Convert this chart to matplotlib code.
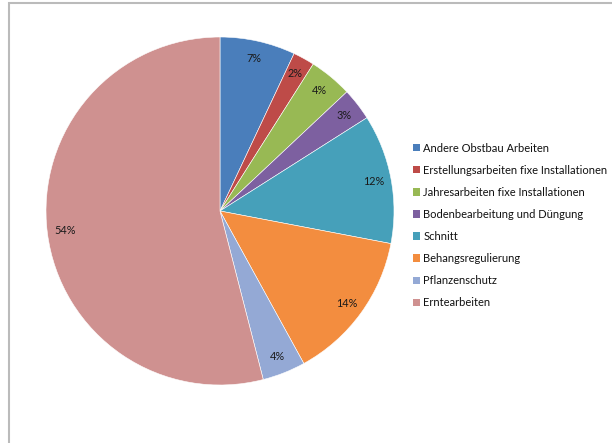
import matplotlib.pyplot as plt
import matplotlib.patches as ptch
import numpy as np

# Arbeitsanteile im Obstbau
categories = ["Andere Obstbau Arbeiten", "Erstellungsarbeiten fixe Installationen",
              "Jahresarbeiten fixe Installationen", "Bodenbearbeitung und Düngung",
              "Schnitt", "Behangsregulierung", "Pflanzenschutz", "Erntearbeiten"]
shares = [7, 2, 4, 3, 12, 14, 4, 54]
colors = ["#4A7EBB", "#BE4B48", "#98B954", "#7D60A0",
          "#46A0BA", "#F38D3F", "#94A9D5", "#CF9190"]

plt.rcParams['font.family'] = ['Lato', 'DejaVu Sans']

W, H = 612, 443
fig = plt.figure(figsize=(W / 100, H / 100), dpi=100)

# pie centre (220, 211) px, radius 174 px
cx, cy, r = 220, 211, 174
ax = fig.add_axes([(cx - r) / W, (H - cy - r) / H, 2 * r / W, 2 * r / H])
wedges, texts = ax.pie(shares, colors=colors, startangle=90, counterclock=False,
                       labels=[f"{v}%" for v in shares], labeldistance=0.9,
                       wedgeprops=dict(linewidth=0.4, edgecolor="white"),
                       textprops=dict(fontsize=7.8, color="#1a1a1a"))
for t in texts:
    t.set_horizontalalignment("center")
    t.set_verticalalignment("center")
ax.set_xlim(-1, 1)
ax.set_ylim(-1, 1)
ax.set_aspect("equal")
ax.axis("off")

# legend
handles = [ptch.Rectangle((0, 0), 1, 1, facecolor=c, edgecolor="none") for c in colors]
fig.legend(handles, categories, loc="upper left",
           bbox_to_anchor=(407 / W, 1 - 137 / H), frameon=False,
           fontsize=8, handlelength=0.65, handleheight=0.65, handletextpad=0.3,
           labelspacing=1.0, borderpad=0, labelcolor="#111111")

# chart frame (extends past right and bottom edge)
frame = ptch.Rectangle((9 / W, -0.1), 1.2, 1 - 3 / H + 0.1, transform=fig.transFigure,
                       facecolor="none", edgecolor="#BBBBBB", linewidth=1.5)
fig.patches.append(frame)

fig.savefig("out.png", dpi=100)
